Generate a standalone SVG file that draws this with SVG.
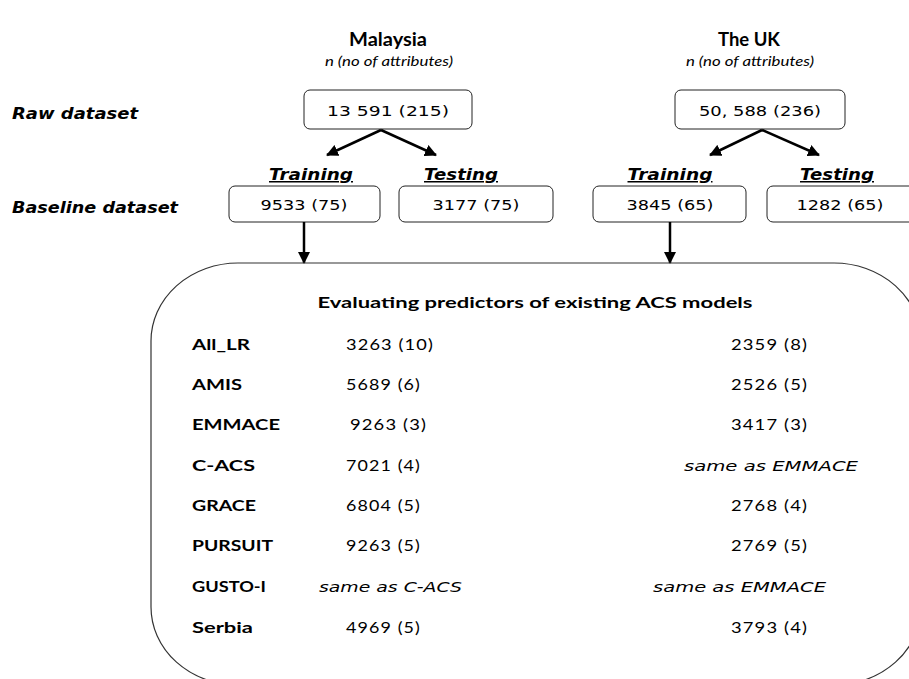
<svg xmlns="http://www.w3.org/2000/svg" width="909" height="679" viewBox="0 0 909 679">
<defs>
<marker id="ah" markerUnits="userSpaceOnUse" markerWidth="12" markerHeight="12" viewBox="0 0 12 12" refX="11" refY="6" orient="auto">
<path d="M0,0 L12,6 L0,12 z" fill="#000"/>
</marker>
<style>
.hd{font-family:Lato,"Liberation Sans",sans-serif;font-weight:700;font-size:18px;fill:#000}
.sub{font-family:Lato,"Liberation Sans",sans-serif;font-style:italic;font-size:13px;fill:#000}
.lab{font-family:"DejaVu Sans",Verdana,sans-serif;font-weight:700;font-style:oblique;font-size:15px;fill:#000}
.tt{font-family:"DejaVu Sans",Verdana,sans-serif;font-weight:700;font-style:oblique;font-size:15px;fill:#000;text-decoration:underline}
.num{font-family:"DejaVu Sans",Verdana,sans-serif;font-size:14px;fill:#000}
.box{fill:#fff;stroke:#222;stroke-width:1}
.rl{font-family:Lato,"Liberation Sans",sans-serif;font-weight:700;font-size:16px;fill:#000}
.val{font-family:Lato,"Liberation Sans",sans-serif;font-size:16px;fill:#000;letter-spacing:1px}
.it{font-family:"DejaVu Sans",Verdana,sans-serif;font-style:oblique;font-size:14px;fill:#000}
.conn{stroke:#000;stroke-width:2.5;fill:none}
</style>
</defs>
<rect width="909" height="679" fill="#fff"/>

<g id="header-malaysia">
<text class="hd" x="388" y="46" text-anchor="middle" textLength="78" lengthAdjust="spacingAndGlyphs">Malaysia</text>
<text class="sub" x="389" y="66" text-anchor="middle" textLength="128" lengthAdjust="spacingAndGlyphs">n (no of attributes)</text>
</g>
<g id="header-uk">
<text class="hd" x="749" y="46" text-anchor="middle" textLength="62" lengthAdjust="spacingAndGlyphs">The UK</text>
<text class="sub" x="750" y="66" text-anchor="middle" textLength="128" lengthAdjust="spacingAndGlyphs">n (no of attributes)</text>
</g>

<g id="row-labels">
<text class="lab" x="12" y="119" textLength="126" lengthAdjust="spacingAndGlyphs">Raw dataset</text>
<text class="lab" x="12" y="213" textLength="166" lengthAdjust="spacingAndGlyphs">Baseline dataset</text>
</g>

<g id="raw-malaysia">
<rect class="box" x="304" y="90" width="168" height="39" rx="6"/>
<text class="num" x="388" y="116" text-anchor="middle" textLength="122" lengthAdjust="spacingAndGlyphs">13 591 (215)</text>
</g>
<g id="raw-uk">
<rect class="box" x="675" y="90" width="170" height="39" rx="6"/>
<text class="num" x="760" y="116" text-anchor="middle" textLength="122" lengthAdjust="spacingAndGlyphs">50, 588 (236)</text>
</g>

<g id="split-labels">
<text class="tt" x="311" y="180" text-anchor="middle" textLength="84" lengthAdjust="spacingAndGlyphs">Training</text>
<text class="tt" x="461" y="180" text-anchor="middle" textLength="74" lengthAdjust="spacingAndGlyphs">Testing</text>
<text class="tt" x="670" y="180" text-anchor="middle" textLength="85" lengthAdjust="spacingAndGlyphs">Training</text>
<text class="tt" x="837" y="180" text-anchor="middle" textLength="74" lengthAdjust="spacingAndGlyphs">Testing</text>
</g>

<g id="train-malaysia">
<rect class="box" x="229" y="186" width="151" height="36" rx="6"/>
<text class="num" x="304" y="210" text-anchor="middle" textLength="87" lengthAdjust="spacingAndGlyphs">9533 (75)</text>
</g>
<g id="test-malaysia">
<rect class="box" x="399" y="186" width="154" height="36" rx="6"/>
<text class="num" x="476" y="210" text-anchor="middle" textLength="87" lengthAdjust="spacingAndGlyphs">3177 (75)</text>
</g>
<g id="train-uk">
<rect class="box" x="593" y="186" width="153" height="36" rx="6"/>
<text class="num" x="670" y="210" text-anchor="middle" textLength="87" lengthAdjust="spacingAndGlyphs">3845 (65)</text>
</g>
<g id="test-uk">
<rect class="box" x="767" y="186" width="160" height="36" rx="6"/>
<text class="num" x="840" y="210" text-anchor="middle" textLength="87" lengthAdjust="spacingAndGlyphs">1282 (65)</text>
</g>

<g id="connectors">
<line class="conn" x1="381" y1="130" x2="327" y2="155" marker-end="url(#ah)"/>
<line class="conn" x1="381" y1="130" x2="436" y2="155" marker-end="url(#ah)"/>
<line class="conn" x1="762" y1="130" x2="710" y2="155" marker-end="url(#ah)"/>
<line class="conn" x1="762" y1="130" x2="819" y2="155" marker-end="url(#ah)"/>
<line class="conn" x1="304" y1="222" x2="304" y2="263" marker-end="url(#ah)"/>
<line class="conn" x1="670" y1="222" x2="670" y2="263" marker-end="url(#ah)"/>
</g>

<g id="evaluation">
<rect x="151" y="263" width="770" height="422" rx="87" ry="78" fill="none" stroke="#333" stroke-width="1.2"/>
<text class="rl" x="535" y="308" text-anchor="middle" textLength="435" lengthAdjust="spacingAndGlyphs">Evaluating predictors of existing ACS models</text>

<text class="rl" x="192" y="350" textLength="58" lengthAdjust="spacingAndGlyphs">All_LR</text>
<text class="rl" x="192" y="390" textLength="50" lengthAdjust="spacingAndGlyphs">AMIS</text>
<text class="rl" x="192" y="430" textLength="88" lengthAdjust="spacingAndGlyphs">EMMACE</text>
<text class="rl" x="192" y="471" textLength="63" lengthAdjust="spacingAndGlyphs">C-ACS</text>
<text class="rl" x="192" y="511" textLength="64" lengthAdjust="spacingAndGlyphs">GRACE</text>
<text class="rl" x="192" y="551" textLength="81" lengthAdjust="spacingAndGlyphs">PURSUIT</text>
<text class="rl" x="192" y="592" textLength="74" lengthAdjust="spacingAndGlyphs">GUSTO-I</text>
<text class="rl" x="192" y="633" textLength="61" lengthAdjust="spacingAndGlyphs">Serbia</text>

<text class="val" x="346" y="350" textLength="88" lengthAdjust="spacingAndGlyphs">3263 (10)</text>
<text class="val" x="346" y="390" textLength="75" lengthAdjust="spacingAndGlyphs">5689 (6)</text>
<text class="val" x="350" y="430" textLength="77" lengthAdjust="spacingAndGlyphs">9263 (3)</text>
<text class="val" x="346" y="471" textLength="75" lengthAdjust="spacingAndGlyphs">7021 (4)</text>
<text class="val" x="346" y="511" textLength="75" lengthAdjust="spacingAndGlyphs">6804 (5)</text>
<text class="val" x="346" y="551" textLength="75" lengthAdjust="spacingAndGlyphs">9263 (5)</text>
<text class="it" x="319" y="592" textLength="143" lengthAdjust="spacingAndGlyphs">same as C-ACS</text>
<text class="val" x="346" y="633" textLength="75" lengthAdjust="spacingAndGlyphs">4969 (5)</text>

<text class="val" x="731" y="350" textLength="77" lengthAdjust="spacingAndGlyphs">2359 (8)</text>
<text class="val" x="731" y="390" textLength="77" lengthAdjust="spacingAndGlyphs">2526 (5)</text>
<text class="val" x="731" y="430" textLength="77" lengthAdjust="spacingAndGlyphs">3417 (3)</text>
<text class="it" x="684" y="471" textLength="174" lengthAdjust="spacingAndGlyphs">same as EMMACE</text>
<text class="val" x="731" y="511" textLength="77" lengthAdjust="spacingAndGlyphs">2768 (4)</text>
<text class="val" x="731" y="551" textLength="77" lengthAdjust="spacingAndGlyphs">2769 (5)</text>
<text class="it" x="653" y="592" textLength="173" lengthAdjust="spacingAndGlyphs">same as EMMACE</text>
<text class="val" x="731" y="633" textLength="77" lengthAdjust="spacingAndGlyphs">3793 (4)</text>
</g>
</svg>
